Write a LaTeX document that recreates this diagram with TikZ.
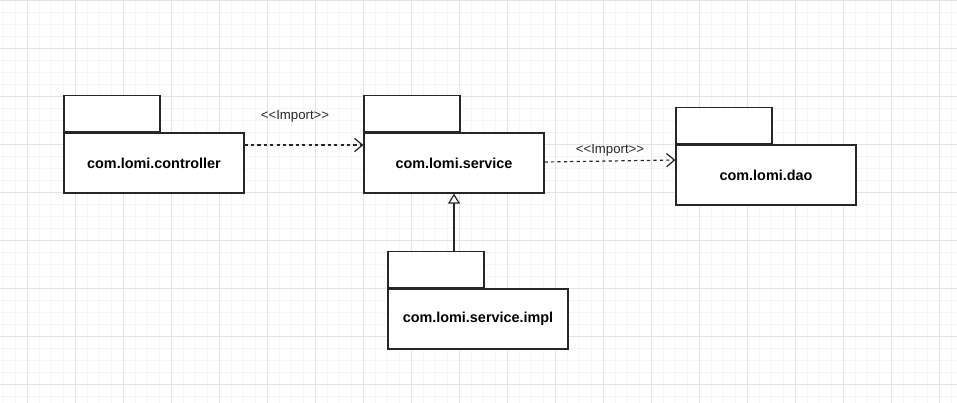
\documentclass[tikz,border=0pt]{standalone}
\usepackage{fontspec}
\setmainfont{Liberation Sans}
\usepackage{tikz}
\usetikzlibrary{positioning, arrows.meta}

\begin{document}
\begin{tikzpicture}[
    x=0.75pt, y=-0.75pt,
    pkg/.style={
      draw=black!85, line width=0.9pt, fill=white,
      minimum width=135pt, minimum height=45pt, inner sep=0pt,
      font=\fontsize{10.8}{13}\selectfont\bfseries
    },
    pkgtab/.style={
      draw=black!85, line width=0.9pt, fill=white,
      minimum width=72pt, minimum height=27pt, inner sep=0pt
    },
    dep/.style={
      -{Straight Barb[length=6pt, width=10pt, line width=0.9pt]},
      line width=0.9pt, black!85, dash pattern=on 2.4pt off 2.4pt
    },
    inh/.style={
      -{Triangle[open, length=7.5pt, width=9pt, fill=white]},
      line width=0.9pt, black!85
    },
    lbl/.style={font=\fontsize{9.9}{12}\selectfont, text=black!85, inner sep=0pt},
    minorgrid/.style={draw=black!4, line width=0.6pt},
    majorgrid/.style={draw=black!11, line width=0.6pt},
  ]
    \useasboundingbox (0,0) rectangle (957,403);
    \fill[white] (0,0) rectangle (957,403);
    \foreach \gx in {3,15,...,957} \draw[minorgrid] (\gx,0) -- (\gx,403);
    \foreach \gy in {0,12,...,403} \draw[minorgrid] (0,\gy) -- (957,\gy);
    \foreach \gx in {27,75,...,957} \draw[majorgrid] (\gx,0) -- (\gx,403);
    \foreach \gy in {0,48,...,403} \draw[majorgrid] (0,\gy) -- (957,\gy);

    \node[pkg] (ctrl) at (154,163) {com.lomi.controller};
    \node[pkgtab, anchor=south west] (ctrltab) at (ctrl.north west) {};
    \node[pkg] (svc) at (454,163) {com.lomi.service};
    \node[pkgtab, anchor=south west] (svctab) at (svc.north west) {};
    \node[pkg] (dao) at (766,175) {com.lomi.dao};
    \node[pkgtab, anchor=south west] (daotab) at (dao.north west) {};
    \node[pkg] (impl) at (478,319) {com.lomi.service.impl};
    \node[pkgtab, anchor=south west] (impltab) at (impl.north west) {};

    \draw[dep] ([yshift=13.5pt]ctrl.east) -- ([yshift=13.5pt]svc.west)
      node[lbl, midway, xshift=-6.75pt, yshift=21.75pt] {<{}<Import>{}>};
    \draw[dep] ([yshift=0.75pt]svc.east) -- ([yshift=11.25pt]dao.west)
      node[lbl, midway, yshift=8.25pt] {<{}<Import>{}>};
    \draw[inh] ([xshift=13.5pt]impltab.north) -- (svc.south);
  \end{tikzpicture}
\end{document}
